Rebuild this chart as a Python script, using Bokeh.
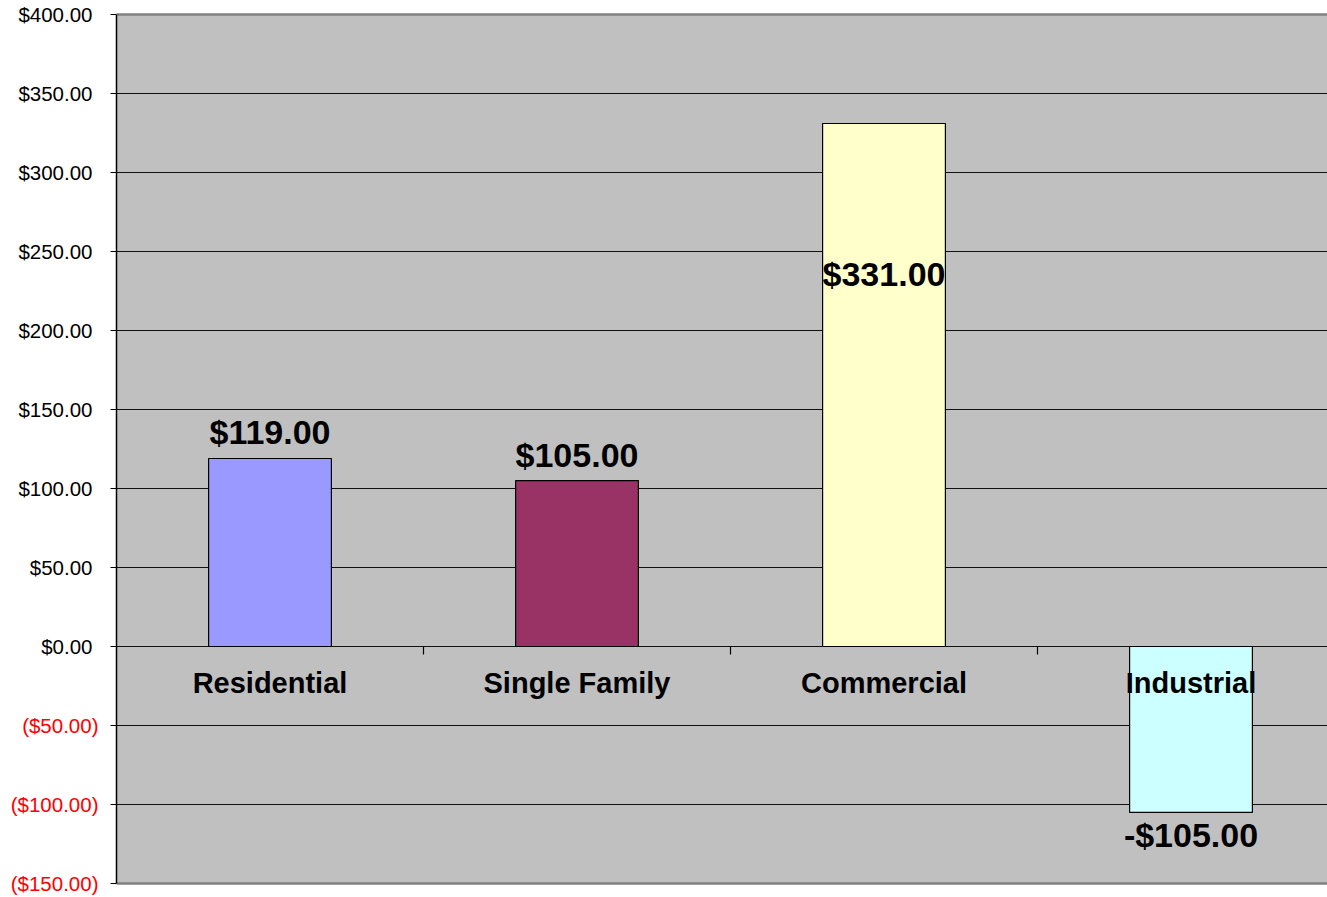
from bokeh.plotting import figure
from bokeh.models import ColumnDataSource, Range1d
from bokeh.core.properties import value
from bokeh.embed import file_html
from bokeh.resources import INLINE

# ---- data ----
categories = ["Residential", "Single Family", "Commercial", "Industrial"]
amounts = [119.0, 105.0, 331.0, -105.0]
value_labels = ["$119.00", "$105.00", "$331.00", "-$105.00"]
bar_colors = ["#9999FF", "#993366", "#FFFFCC", "#CCFFFF"]
tick_values = [-150, -100, -50, 0, 50, 100, 150, 200, 250, 300, 350, 400]
tick_labels = ["($150.00)", "($100.00)", "($50.00)", "$0.00", "$50.00", "$100.00",
               "$150.00", "$200.00", "$250.00", "$300.00", "$350.00", "$400.00"]
y_min, y_max = -150, 400

# ---- style ----
FONT = "Liberation Sans"
label_offsets = [-26, -26, 150, 23]   # screen px from bar end (down positive)

W, H = 1327, 897
LEFT, TOP, BOTTOM = 116, 14, 14      # plot-area insets in px
cat_px = 307.0                       # px per category
ux = 1.0 / cat_px                    # data units per px (x)
uy = (y_max - y_min) / (H - TOP - BOTTOM)   # data units per px (y)

x_lo = -LEFT * ux
x_hi = (W - LEFT) * ux
xs = [i + 0.5 for i in range(len(categories))]

src = ColumnDataSource(dict(
    x=xs, top=amounts, color=bar_colors, lab=value_labels,
    cat=categories, zero=[0] * len(categories), off=label_offsets,
))

p = figure(width=W, height=H, output_backend="svg", toolbar_location=None,
           x_range=Range1d(x_lo, x_hi),
           y_range=Range1d(y_min - BOTTOM * uy, y_max + TOP * uy),
           min_border=0)
p.axis.visible = False
p.grid.visible = False
p.outline_line_color = None
p.background_fill_color = "white"
p.border_fill_color = "white"

# plot area background
p.quad(left=[0], right=[x_hi], bottom=[y_min], top=[y_max],
       fill_color="#C0C0C0", line_color=None)

# gridlines
inner = [v for v in tick_values if y_min < v < y_max]
p.segment(x0=[0] * len(inner), x1=[x_hi] * len(inner), y0=inner, y1=inner,
          line_color="#111111", line_width=1.2)
p.segment(x0=[0, 0], x1=[x_hi, x_hi], y0=[y_min, y_max], y1=[y_min, y_max],
          line_color="#808080", line_width=2.5)

# left axis line and ticks
p.segment(x0=[0], x1=[0], y0=[y_min], y1=[y_max], line_color="black", line_width=1.5)
p.segment(x0=[-6 * ux] * len(tick_values), x1=[0] * len(tick_values),
          y0=tick_values, y1=tick_values, line_color="black", line_width=1.2)

# tick labels (negative in red, accounting format alignment)
tick_src = ColumnDataSource(dict(
    x=[0] * len(tick_values), y=tick_values, t=tick_labels,
    c=["#FF0000" if v < 0 else "black" for v in tick_values],
    xo=[-18 if v < 0 else -24 for v in tick_values],
))
p.text(x="x", y="y", text="t", source=tick_src, x_offset="xo", text_align="right",
       text_baseline="middle", text_color="c", text_font=value(FONT),
       text_font_size="20.5px")

# bars
p.vbar(x="x", top="top", bottom=0, width=0.4, source=src, fill_color="color",
       line_color="black", line_width=1.2)

# category boundary ticks on the zero line
p.segment(x0=[1, 2, 3], y0=[0, 0, 0], x1=[1, 2, 3], y1=[-8 * uy] * 3,
          line_color="black", line_width=1.2)

# category labels
p.text(x="x", y="zero", text="cat", source=src, y_offset=36, text_align="center",
       text_baseline="middle", text_font=value(FONT), text_font_style="bold",
       text_font_size="29px", text_color="black")

# value labels
p.text(x="x", y="top", text="lab", source=src, y_offset="off", text_align="center",
       text_baseline="middle", text_font=value(FONT), text_font_style="bold",
       text_font_size="34px", text_color="black")

open("out.html", "w").write(file_html(p, INLINE))
